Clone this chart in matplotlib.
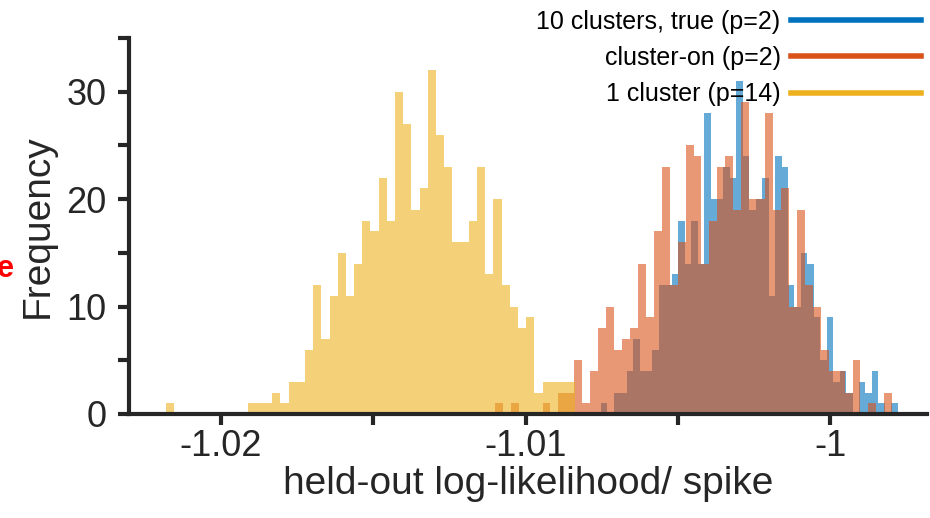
import numpy as np
import matplotlib
matplotlib.use('Agg')
import matplotlib.pyplot as plt
from matplotlib.lines import Line2D

plt.rcParams['font.family'] = ['Liberation Sans', 'DejaVu Sans']

# histogram counts (bin start, bin width, counts)
one_start = -1.021816
one_width = 0.000269
one_counts = [1, 0, 0, 0, 0, 0, 0, 0, 0, 0,
              1, 1, 1, 2, 1, 3, 3, 6, 12, 7,
              11, 15, 11, 14, 18, 17, 22, 18, 30, 27,
              19, 21, 32, 26, 23, 16, 16, 18, 23, 13,
              20, 12, 10, 8, 9, 2, 3, 3, 3, 3]

on_start = -1.011008
on_width = 0.000261
on_counts = [1, 0, 1, 0, 0, 0, 1, 0, 2, 2,
             5, 1, 4, 8, 10, 6, 7, 8, 14, 9,
             17, 23, 12, 16, 25, 24, 14, 18, 23, 24,
             19, 29, 20, 20, 28, 19, 21, 10, 19, 12,
             10, 6, 4, 4, 2, 5, 0, 1, 0, 2]

true_start = -1.007529
true_width = 0.000212
true_counts = [1, 0, 2, 2, 4, 7, 4, 4, 6, 12,
               12, 13, 18, 14, 18, 14, 28, 20, 20, 23,
               22, 31, 24, 19, 20, 22, 11, 24, 23, 12,
               10, 15, 14, 9, 5, 9, 3, 4, 2, 0,
               3, 2, 4, 1, 0, 1]

labels = ['10 clusters, true (p=2)', 'cluster-on (p=2)', '1 cluster (p=14)']
colors = ['#0072BD', '#D95319', '#EDB120']


def edges(start, width, counts):
    return start + width * np.arange(len(counts) + 1)


fig = plt.figure(figsize=(9.3, 5.18), dpi=100)
ax = fig.add_axes([0.1387, 0.2008, 0.8583, 0.7258])

ax.stairs(true_counts, edges(true_start, true_width, true_counts),
          fill=True, color=colors[0], alpha=0.6, linewidth=0)
ax.stairs(on_counts, edges(on_start, on_width, on_counts),
          fill=True, color=colors[1], alpha=0.6, linewidth=0)
ax.stairs(one_counts, edges(one_start, one_width, one_counts),
          fill=True, color=colors[2], alpha=0.6, linewidth=0)

ax.set_xlim(-1.02302, -0.99681)
ax.set_ylim(0, 35)
ax.set_xticks([-1.02, -1.01, -1.0])
ax.set_xticklabels(['-1.02', '-1.01', '-1'])
ax.set_xticks([-1.015, -1.005], minor=True)
ax.set_yticks([0, 10, 20, 30])
ax.set_yticks([5, 15, 25, 35], minor=True)

for s in ['top', 'right']:
    ax.spines[s].set_visible(False)
for s in ['left', 'bottom']:
    ax.spines[s].set_linewidth(3)
    ax.spines[s].set_color('#262626')
ax.tick_params(which='both', direction='out', length=8, width=3,
               color='#262626', labelsize=26, labelcolor='#262626')
ax.tick_params(axis='x', pad=3)
ax.tick_params(axis='y', pad=8)

ax.set_xlabel('held-out log-likelihood/ spike', fontsize=28,
              color='#262626', labelpad=1)
ax.set_ylabel('Frequency', fontsize=28, color='#262626', labelpad=8)

handles = [Line2D([], [], color=c, linewidth=4) for c in colors]
ax.legend(handles, labels, loc='upper right', bbox_to_anchor=(1.0, 1.0),
          bbox_transform=fig.transFigure, frameon=False, markerfirst=False,
          fontsize=18, handlelength=5.2, handletextpad=0.4, labelspacing=0.5,
          borderaxespad=0, borderpad=0.38)

fig.text(-0.004, 0.465, 'e', color='red', fontsize=22, fontweight='bold')

fig.savefig('out.png', dpi=100)
